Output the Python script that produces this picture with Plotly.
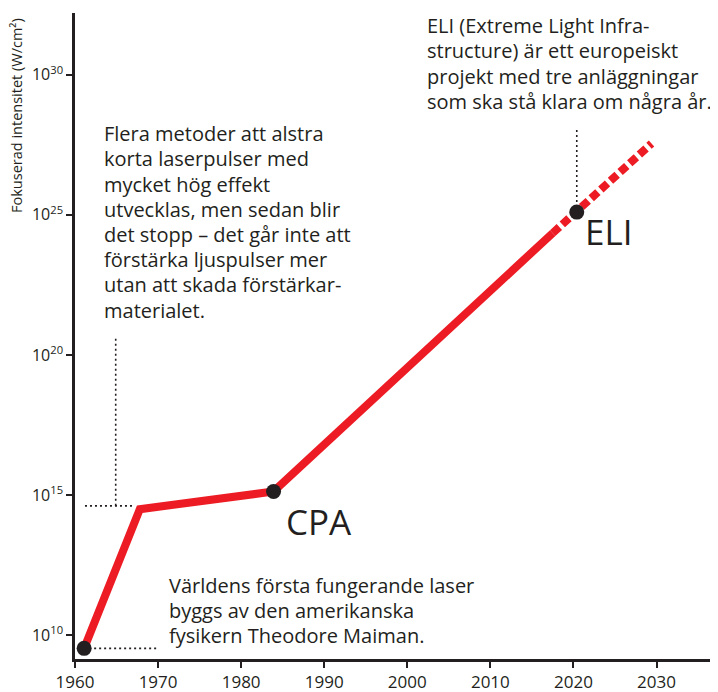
import plotly.graph_objects as go

# ---- data ----
solid_years = [1961.1, 1967.8, 1983.9, 2017.5]
solid_log_intensity = [9.52, 14.49, 15.12, 24.35]
dashed_years = [2017.5, 2029.4]
dashed_log_intensity = [24.35, 27.55]
milestone_years = [1961.1, 1983.9, 2020.4]
milestone_log_intensity = [9.52, 15.12, 25.1]

x_ticks = [1960, 1970, 1980, 1990, 2000, 2010, 2020, 2030]
y_tick_exponents = [10, 15, 20, 25, 30]

note_methods = ["Flera metoder att alstra", "korta laserpulser med", "mycket hög effekt",
                "utvecklas, men sedan blir", "det stopp – det går inte att",
                "förstärka ljuspulser mer", "utan att skada förstärkar-", "materialet."]
note_eli = ["ELI (Extreme Light Infra-", "structure) är ett europeiskt",
            "projekt med tre anläggningar", "som ska stå klara om några år."]
note_maiman = ["Världens första fungerande laser", "byggs av den amerikanska",
               "fysikern Theodore Maiman."]

RED = "#ED1C24"
INK = "#231F20"

def p(v):
    return [10.0 ** e for e in v]

fig = go.Figure()

# dotted guide lines
guide_style = dict(color=INK, width=1.6, dash="2px,3px")
fig.add_trace(go.Scatter(x=[1961.1, 1970.0], y=p([9.52, 9.52]), mode="lines",
                         line=guide_style, hoverinfo="skip"))
fig.add_trace(go.Scatter(x=[1961.2, 1966.9], y=p([14.61, 14.61]), mode="lines",
                         line=guide_style, hoverinfo="skip"))
fig.add_trace(go.Scatter(x=[1964.9, 1964.9], y=p([14.61, 20.6]), mode="lines",
                         line=guide_style, hoverinfo="skip"))
fig.add_trace(go.Scatter(x=[2020.4, 2020.4], y=p([25.1, 28.14]), mode="lines",
                         line=guide_style, hoverinfo="skip"))

# red development line
fig.add_trace(go.Scatter(x=solid_years, y=p(solid_log_intensity), mode="lines",
                         line=dict(color=RED, width=8)))
fig.add_trace(go.Scatter(x=dashed_years, y=p(dashed_log_intensity), mode="lines",
                         line=dict(color=RED, width=8, dash="9px,4px")))

# milestones
fig.add_trace(go.Scatter(x=milestone_years, y=p(milestone_log_intensity), mode="markers",
                         marker=dict(color=INK, size=15)))

fig.add_annotation(x=1983.9, y=15.12, xref="x", yref="y", text="CPA", showarrow=False,
                   xanchor="left", yanchor="middle", xshift=10, yshift=-30,
                   font=dict(family="Open Sans", size=35, color=INK))
fig.add_annotation(x=2020.4, y=25.1, xref="x", yref="y", text="ELI", showarrow=False,
                   xanchor="left", yanchor="middle", xshift=6, yshift=-19,
                   font=dict(family="Open Sans", size=35, color=INK))

ann_font = dict(family="Open Sans", size=20, color=INK)
LINE = 25.2

def text_block(lines, x, y_center):
    n = len(lines)
    for i, line in enumerate(lines):
        fig.add_annotation(x=x, y=y_center, xref="x", yref="y", showarrow=False,
                           xanchor="left", yanchor="middle", align="left",
                           yshift=((n - 1) / 2 - i) * LINE, text=line, font=ann_font)

text_block(note_methods, 1963.25, 24.75)
text_block(note_eli, 2002.1, 30.41)
text_block(note_maiman, 1971.07, 10.875)

# y-axis title placed near the top, as in the original
fig.add_annotation(x=-0.0902, y=0.8406, xref="paper", yref="paper", showarrow=False,
                   textangle=-90, xanchor="center", yanchor="middle",
                   text="Fokuserad intensitet (W/cm²)",
                   font=dict(family="Open Sans", size=14.5, color=INK))

fig.update_layout(
    width=710, height=684,
    margin=dict(l=67, r=0, t=5, b=33),
    plot_bgcolor="white", paper_bgcolor="white",
    showlegend=False,
    font=dict(family="Open Sans", color=INK),
)
fig.update_xaxes(range=[1960, 2037.4], tickvals=x_ticks, ticktext=[str(t) for t in x_ticks],
                 showgrid=False, zeroline=False, showline=True, linecolor=INK, linewidth=2.5,
                 ticks="outside", ticklen=6, tickwidth=2, tickcolor=INK,
                 tickfont=dict(family="Open Sans", size=17, color=INK))
fig.update_yaxes(type="log", range=[9.14, 32.21],
                 tickvals=[10.0 ** e for e in y_tick_exponents],
                 ticktext=[f"10<sup>{e}</sup>" for e in y_tick_exponents],
                 showgrid=False, zeroline=False, showline=True, linecolor=INK, linewidth=2.5,
                 ticks="outside", ticklen=6, tickwidth=2, tickcolor=INK,
                 tickfont=dict(family="Open Sans", size=16, color=INK))

fig.write_html("out.html")
